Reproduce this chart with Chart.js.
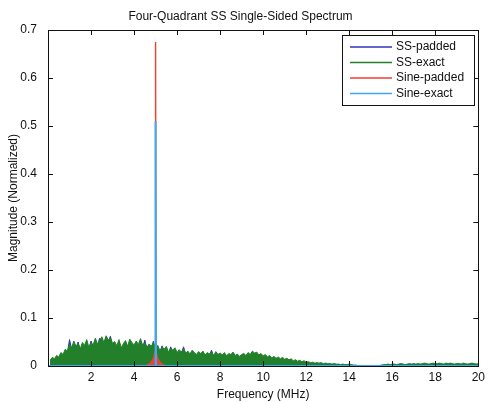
<!DOCTYPE html>
<html>
<head>
<meta charset="utf-8">
<script src="https://cdn.jsdelivr.net/npm/chart.js@4"></script>
<style>
  body { margin: 0; background: #fff; }
  canvas { display: block; }
</style>
</head>
<body>
<canvas id="myChart" width="489" height="402"></canvas>
<script>
// spectre SS (pas de 0.1 MHz, de 0.1 a 20 MHz)
var ssExact = [
  0.012,0.018,0.015,0.022,0.019,0.028,0.024,0.035,0.031,0.046,
  0.038,0.052,0.041,0.047,0.036,0.049,0.043,0.055,0.039,0.048,
  0.044,0.058,0.046,0.052,0.061,0.049,0.063,0.054,0.059,0.047,
  0.051,0.042,0.055,0.038,0.046,0.053,0.041,0.056,0.049,0.044,
  0.052,0.045,0.057,0.043,0.048,0.039,0.046,0.041,0.049,0.036,
  0.043,0.032,0.039,0.035,0.041,0.029,0.037,0.033,0.038,0.028,
  0.034,0.029,0.036,0.027,0.031,0.025,0.033,0.028,0.024,0.030,
  0.026,0.031,0.023,0.028,0.025,0.029,0.022,0.030,0.024,0.027,
  0.023,0.028,0.021,0.026,0.024,0.029,0.022,0.025,0.020,0.024,
  0.026,0.022,0.028,0.024,0.031,0.027,0.029,0.023,0.026,0.021,
  0.024,0.019,0.022,0.017,0.020,0.016,0.019,0.015,0.018,0.014,
  0.016,0.013,0.015,0.011,0.013,0.010,0.012,0.009,0.011,0.008,
  0.009,0.007,0.008,0.006,0.007,0.006,0.007,0.005,0.006,0.005,
  0.005,0.004,0.005,0.004,0.004,0.003,0.004,0.003,0.003,0.004,
  0.003,0.002,0.002,0.001,0.001,0.001,0.000,0.000,0.000,0.000,
  0.000,0.000,0.000,0.001,0.002,0.003,0.003,0.004,0.003,0.004,
  0.004,0.003,0.004,0.005,0.004,0.003,0.004,0.005,0.004,0.005,
  0.004,0.005,0.004,0.005,0.006,0.005,0.004,0.005,0.006,0.005,
  0.005,0.006,0.005,0.004,0.006,0.005,0.006,0.005,0.004,0.005,
  0.005,0.004,0.006,0.005,0.004,0.005,0.006,0.005,0.004,0.005
];
var ssPadded = [
  0.010,0.014,0.012,0.018,0.016,0.022,0.020,0.030,0.026,0.055,
  0.034,0.045,0.036,0.050,0.032,0.044,0.038,0.048,0.035,0.052,
  0.040,0.050,0.042,0.058,0.052,0.044,0.060,0.050,0.062,0.042,
  0.046,0.038,0.050,0.034,0.042,0.048,0.036,0.050,0.045,0.040,
  0.048,0.040,0.052,0.038,0.054,0.035,0.042,0.036,0.052,0.032,
  0.038,0.028,0.042,0.031,0.037,0.025,0.040,0.029,0.034,0.024,
  0.030,0.026,0.040,0.024,0.028,0.022,0.030,0.025,0.021,0.027,
  0.023,0.028,0.020,0.025,0.022,0.033,0.019,0.027,0.021,0.024,
  0.020,0.025,0.018,0.023,0.021,0.026,0.019,0.022,0.017,0.021,
  0.023,0.019,0.025,0.021,0.028,0.024,0.026,0.020,0.023,0.018,
  0.021,0.016,0.019,0.014,0.017,0.013,0.016,0.012,0.015,0.011,
  0.013,0.010,0.012,0.008,0.010,0.007,0.009,0.006,0.008,0.005,
  0.006,0.004,0.005,0.003,0.004,0.003,0.004,0.002,0.003,0.002,
  0.002,0.002,0.003,0.002,0.002,0.001,0.002,0.001,0.002,0.002,
  0.001,0.001,0.001,0.000,0.000,0.000,0.000,0.000,0.000,0.000,
  0.000,0.000,0.000,0.000,0.001,0.001,0.001,0.002,0.001,0.002,
  0.002,0.001,0.002,0.003,0.002,0.001,0.002,0.003,0.002,0.003,
  0.002,0.003,0.002,0.003,0.004,0.003,0.002,0.003,0.004,0.003,
  0.003,0.004,0.003,0.002,0.004,0.003,0.004,0.003,0.002,0.003,
  0.003,0.002,0.004,0.003,0.002,0.003,0.004,0.003,0.002,0.003
];
// sinus a 5 MHz
var sinePaddedFreq = [0.05, 4.5, 4.6, 4.7, 4.8, 4.9, 4.98, 5.0, 5.02, 5.1, 5.2, 5.3, 5.4, 5.5, 20];
var sinePadded     = [0, 0, 0.002, 0.004, 0.008, 0.016, 0.03, 0.675, 0.03, 0.016, 0.008, 0.004, 0.002, 0, 0];
var sineExactFreq  = [0.05, 4.98, 5.0, 5.02, 20];
var sineExact      = [0, 0, 0.51, 0, 0];

var xTicks = [2, 4, 6, 8, 10, 12, 14, 16, 18, 20];
var yTicks = [0, 0.1, 0.2, 0.3, 0.4, 0.5, 0.6, 0.7];
var legendLabels = ['SS-padded', 'SS-exact', 'Sine-padded', 'Sine-exact'];
var colors = ['#3333b8', '#23802a', '#f2402e', '#3fa8ee'];

function pts(xs, ys) {
  return ys.map(function (y, i) { return { x: xs[i], y: y }; });
}
var ssFreq = ssExact.map(function (v, i) { return +(0.1 * (i + 1)).toFixed(1); });

var font = { family: '"Liberation Sans", Arial, sans-serif', size: 12 };

// ticks vers l'interieur + cadre (style matlab)
var boxPlugin = {
  id: 'box',
  afterDraw: function (chart) {
    var c = chart.ctx, a = chart.chartArea;
    var xs = chart.scales.x, ys = chart.scales.y;
    c.save();
    c.strokeStyle = '#111';
    c.lineWidth = 1;
    c.beginPath();
    xTicks.forEach(function (t) {
      var px = Math.round(xs.getPixelForValue(t)) + 0.5;
      c.moveTo(px, a.bottom); c.lineTo(px, a.bottom - 5);
      c.moveTo(px, a.top); c.lineTo(px, a.top + 5);
    });
    yTicks.forEach(function (t) {
      var py = Math.round(ys.getPixelForValue(t)) + 0.5;
      c.moveTo(a.left, py); c.lineTo(a.left + 5, py);
      c.moveTo(a.right, py); c.lineTo(a.right - 5, py);
    });
    c.stroke();
    c.strokeRect(Math.round(a.left) + 0.5, Math.round(a.top) + 0.5,
                 Math.round(a.right - a.left), Math.round(a.bottom - a.top));
    // legende
    var lx = 342, ly = 35, lw = 132, lh = 70;
    c.fillStyle = '#fff';
    c.fillRect(lx, ly, lw, lh);
    c.strokeRect(lx + 0.5, ly + 0.5, lw, lh);
    c.font = '12px "Liberation Sans", Arial, sans-serif';
    c.textBaseline = 'middle';
    legendLabels.forEach(function (lab, i) {
      var yy = 47 + i * 15.5;
      c.strokeStyle = colors[i];
      c.lineWidth = 1.5;
      c.beginPath(); c.moveTo(350, yy); c.lineTo(392, yy); c.stroke();
      c.fillStyle = '#111';
      c.fillText(lab, 396, yy);
    });
    c.restore();
  }
};

var ctx = document.getElementById('myChart').getContext('2d');
var chart = new Chart(ctx, {
  type: 'line',
  data: {
    datasets: [
      { label: legendLabels[3], data: pts(sineExactFreq, sineExact), borderColor: colors[3],
        borderWidth: 2, pointRadius: 0, order: 1 },
      { label: legendLabels[2], data: pts(sinePaddedFreq, sinePadded), borderColor: colors[2],
        backgroundColor: colors[2], fill: 'origin', borderWidth: 1.4, pointRadius: 0, order: 2 },
      { label: legendLabels[1], data: pts(ssFreq, ssExact), borderColor: colors[1],
        backgroundColor: colors[1], fill: 'origin', borderWidth: 1, pointRadius: 0, order: 3 },
      { label: legendLabels[0], data: pts(ssFreq, ssPadded), borderColor: colors[0],
        backgroundColor: colors[0], fill: 'origin', borderWidth: 1, pointRadius: 0, order: 4 }
    ]
  },
  options: {
    responsive: false,
    animation: false,
    layout: { padding: { left: 0, right: 8, top: 0, bottom: 0 } },
    plugins: {
      legend: { display: false },
      tooltip: { enabled: false },
      title: {
        display: true,
        text: 'Four-Quadrant SS Single-Sided Spectrum',
        color: '#111',
        font: { family: font.family, size: 12, weight: 'normal' },
        padding: { top: 9, bottom: 6.6 }
      }
    },
    scales: {
      x: {
        type: 'linear',
        min: 0,
        max: 20,
        afterBuildTicks: function (axis) {
          axis.ticks = xTicks.map(function (v) { return { value: v }; });
        },
        afterFit: function (scale) { scale.height = 36; },
        grid: { display: false, drawTicks: false },
        border: { display: false },
        ticks: { color: '#111', font: font, padding: 4, maxRotation: 0 },
        title: { display: true, text: 'Frequency (MHz)', color: '#111', font: font, padding: 0 }
      },
      y: {
        min: 0,
        max: 0.7,
        afterBuildTicks: function (axis) {
          axis.ticks = yTicks.map(function (v) { return { value: v }; });
        },
        afterFit: function (scale) { scale.width = 48; },
        grid: { display: false, drawTicks: false },
        border: { display: false },
        ticks: { color: '#111', font: font, padding: 11 },
        title: { display: true, text: 'Magnitude (Normalized)', color: '#111', font: font, padding: { top: 6, bottom: 0 } }
      }
    }
  },
  plugins: [boxPlugin]
});
</script>
</body>
</html>
